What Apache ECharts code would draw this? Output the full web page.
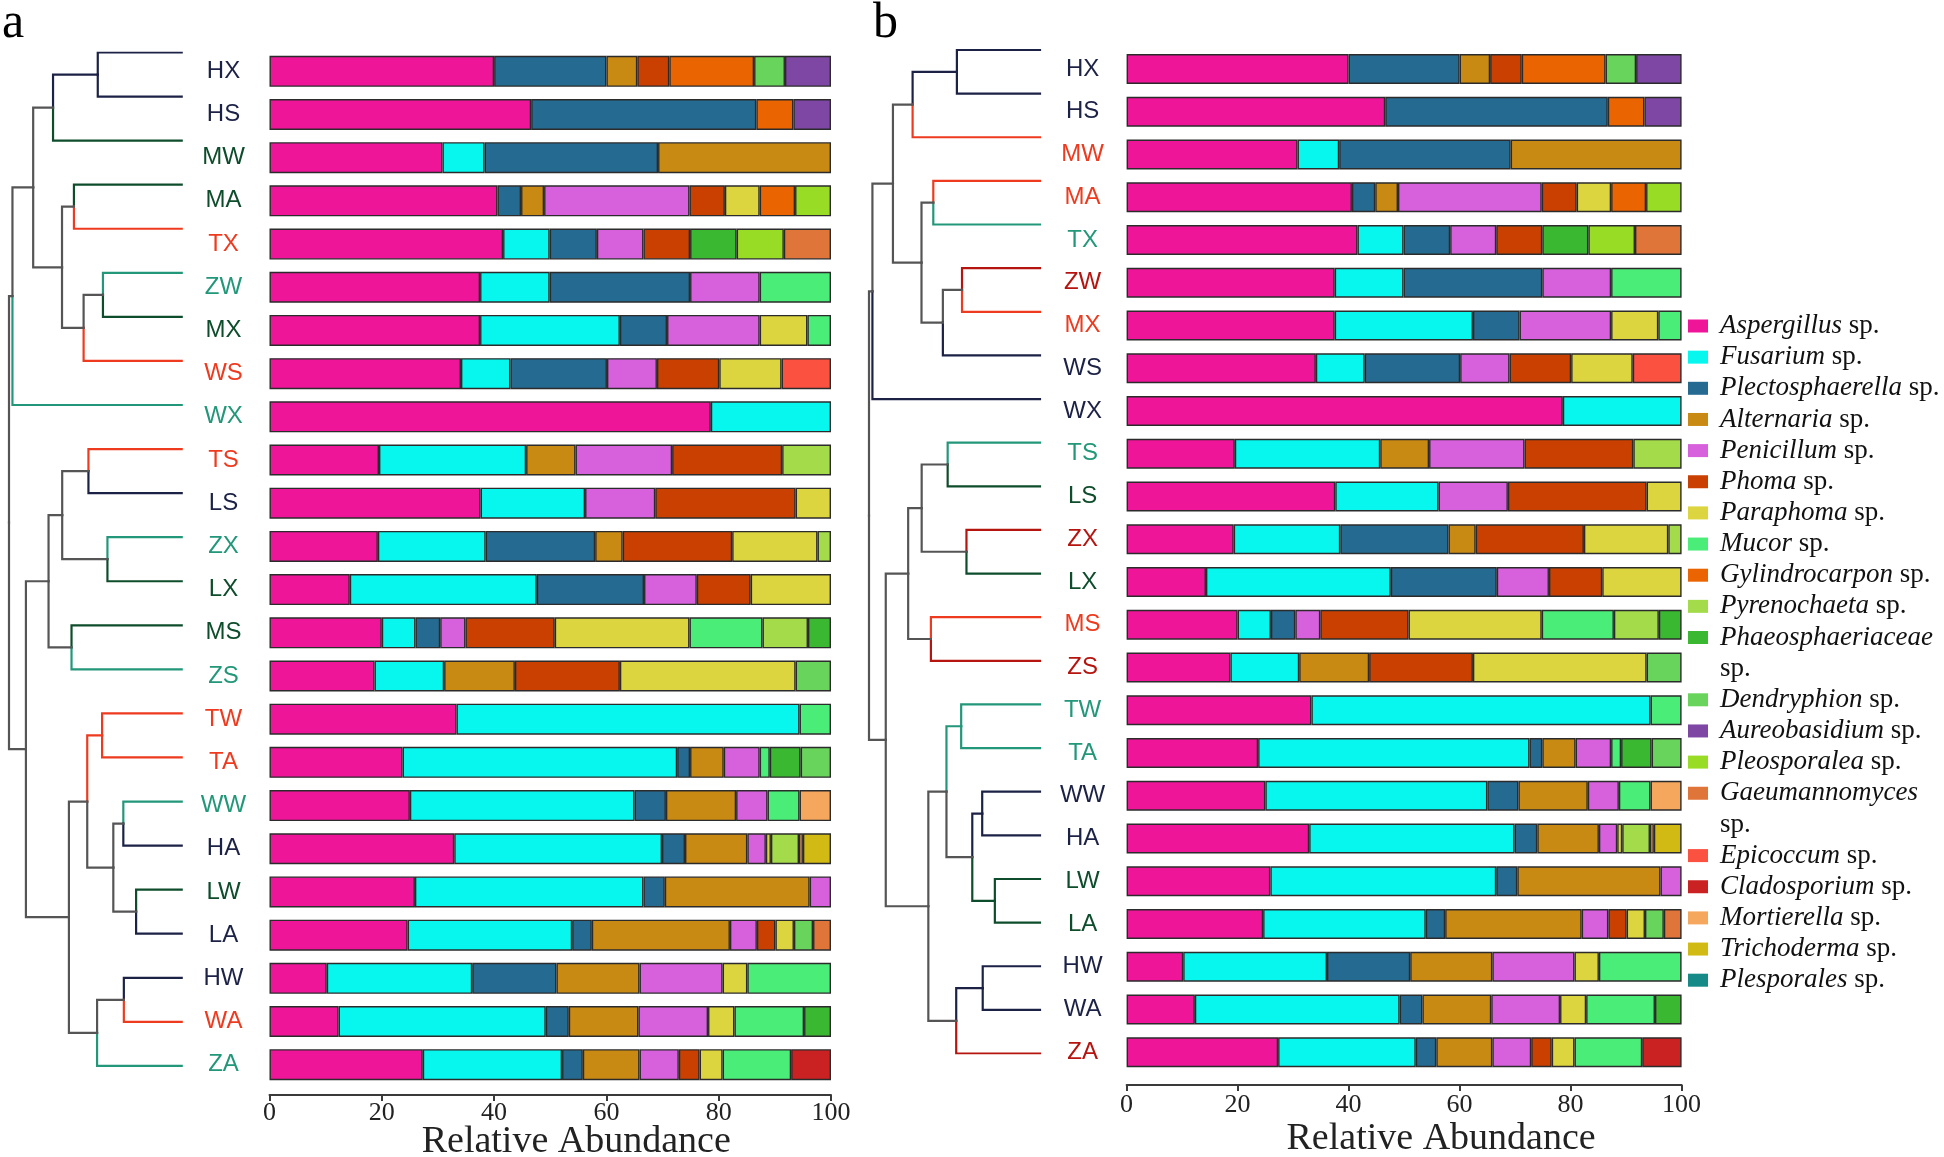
<!DOCTYPE html>
<html><head><meta charset="utf-8">
<script src="https://cdn.jsdelivr.net/npm/echarts@6/dist/echarts.min.js"></script>
<style>html,body{margin:0;padding:0;background:#fff}#c{width:1944px;height:1157px}</style>
</head><body><div id="c"></div><script>
// ---------- data ----------
const samples = ['HX','HS','MW','MA','TX','ZW','MX','WS','WX','TS','LS','ZX','LX','MS','ZS','TW','TA','WW','HA','LW','LA','HW','WA','ZA'];
const species = ['Aspergillus sp.','Fusarium sp.','Plectosphaerella sp.','Alternaria sp.','Penicillum sp.','Phoma sp.','Paraphoma sp.','Mucor sp.','Gylindrocarpon sp.','Pyrenochaeta sp.','Phaeosphaeriaceae sp.','Dendryphion sp.','Aureobasidium sp.','Pleosporalea sp.','Gaeumannomyces sp.','Epicoccum sp.','Cladosporium sp.','Mortierella sp.','Trichoderma sp.','Plesporales sp.'];
const speciesColors = ['#ee1598','#07f7ef','#256a91','#c98a14','#d761dc','#c94000','#ddd540','#4bed79','#ea6502','#a3db4b','#3bb832','#69d45b','#7e47a4','#99dc25','#e07539','#fb5140','#ca2222','#f5a75e','#d2ba15','#168a86'];
//                   HX   HS   MW   MA   TX   ZW   MX   WS   WX   TS   LS   ZX   LX   MS   ZS   TW   TA   WW   HA   LW   LA   HW   WA   ZA
const aspergillus  = [40, 46.6,30.8,40.6,41.6,37.5,37.5,34.1,78.6,19.5,37.6,19.3,14.3,20,  18.7,33.3,23.7,25,  32.9,25.9,24.6,10.2,12.3,27.3];
const fusarium     = [0,  0,   7.5, 0,   8.3, 12.4,24.9,8.8, 21.4,26.2,18.6,19.2,33.3,6,   12.4,61.1,48.9,40,  37,  40.7,29.3,25.9,36.9,24.8];
const plecto       = [20, 40.1,30.9,4.2, 8.4, 25,  8.4, 17.2,0,   0,   0,   19.5,19.1,4.4, 0,   0,   2.3, 5.6, 4.1, 3.8, 3.5, 15,  4.1, 3.7];
const alternaria   = [5.5,0,   30.8,4.1, 0,   0,   0,   0,   0,   8.8, 0,   4.9, 0,   0,   12.6,0,   6,   12.5,11.1,25.8,24.6,14.8,12.4,10.1];
const penicillum   = [0,  0,   0,   25.9,8.3, 12.4,16.5,8.9, 0,   17.2,12.5,0,   9.4, 4.5, 0,   0,   6.4, 5.6, 3.3, 3.8, 4.8, 14.8,12.4,7];
const phoma        = [5.7,0,   0,   6.3, 8.3, 0,   0,   11.1,0,   19.6,25,  19.5,9.6, 15.9,18.7,0,   0,   0,   0,   0,   3.3, 0,   0,   3.7];
const paraphoma    = [0,  0,   0,   6.2, 0,   0,   8.5, 11.1,0,   0,   6.3, 15.2,14.3,24,  31.3,0,   0,   0,   0.9, 0,   3.3, 4.4, 4.7, 4.1];
const mucor        = [0,  0,   0,   0,   0,   12.7,4.2, 0,   0,   0,   0,   0,   0,   13,  0,   5.6, 1.8, 5.7, 0,   0,   0,   14.9,12.4,12.2];
const gylindro     = [15.1,6.6,0,   6.3, 0,   0,   0,   0,   0,   0,   0,   0,   0,   0,   0,   0,   0,   0,   0,   0,   0,   0,   0,   0];
const pyrenochaeta = [0,  0,   0,   0,   0,   0,   0,   0,   0,   8.7, 0,   2.4, 0,   8.1, 0,   0,   0,   0,   5,   0,   0,   0,   0,   0];
const phaeosph     = [0,  0,   0,   0,   8.3, 0,   0,   0,   0,   0,   0,   0,   0,   4.1, 0,   0,   5.5, 0,   0,   0,   0,   0,   4.8, 0];
const dendryphion  = [5.5,0,   0,   0,   0,   0,   0,   0,   0,   0,   0,   0,   0,   0,   6.3, 0,   5.4, 0,   0,   0,   3.4, 0,   0,   0];
const aureobas     = [8.2,6.7, 0,   0,   0,   0,   0,   0,   0,   0,   0,   0,   0,   0,   0,   0,   0,   0,   0,   0,   0,   0,   0,   0];
const pleosporalea = [0,  0,   0,   6.4, 8.4, 0,   0,   0,   0,   0,   0,   0,   0,   0,   0,   0,   0,   0,   0,   0,   0,   0,   0,   0];
const gaeumanno    = [0,  0,   0,   0,   8.4, 0,   0,   0,   0,   0,   0,   0,   0,   0,   0,   0,   0,   0,   0,   0,   3.2, 0,   0,   0];
const epicoccum    = [0,  0,   0,   0,   0,   0,   0,   8.8, 0,   0,   0,   0,   0,   0,   0,   0,   0,   0,   0,   0,   0,   0,   0,   0];
const cladospor    = [0,  0,   0,   0,   0,   0,   0,   0,   0,   0,   0,   0,   0,   0,   0,   0,   0,   0,   0,   0,   0,   0,   0,   7.1];
const mortierella  = [0,  0,   0,   0,   0,   0,   0,   0,   0,   0,   0,   0,   0,   0,   0,   0,   0,   5.6, 0.7, 0,   0,   0,   0,   0];
const trichoderma  = [0,  0,   0,   0,   0,   0,   0,   0,   0,   0,   0,   0,   0,   0,   0,   0,   0,   0,   5,   0,   0,   0,   0,   0];
const plesporales  = [0,  0,   0,   0,   0,   0,   0,   0,   0,   0,   0,   0,   0,   0,   0,   0,   0,   0,   0,   0,   0,   0,   0,   0];
const abundance = [aspergillus,fusarium,plecto,alternaria,penicillum,phoma,paraphoma,mucor,gylindro,pyrenochaeta,phaeosph,dendryphion,aureobas,pleosporalea,gaeumanno,epicoccum,cladospor,mortierella,trichoderma,plesporales];
const xTicks = [0,20,40,60,80,100];

// label / branch colour groups
const NV = '#1c2246', DG = '#0e4d2b', RD = '#ee3b1f', TL = '#23977a', DR = '#b5140f', GREY = '#555555';
const labelColorsA = [NV,NV,DG,DG,RD,TL,DG,RD,TL,RD,NV,TL,DG,DG,TL,RD,RD,TL,NV,DG,NV,NV,RD,TL];
const labelColorsB = [NV,NV,RD,RD,TL,DR,RD,NV,NV,TL,DG,DR,DG,RD,DR,TL,TL,NV,NV,DG,DG,NV,NV,DR];

// hierarchical clustering merges: [childA, childB, height]; leaves 0..23, new nodes 24..
const merges = [
  [0,1,48.6],[24,2,74.5],[3,4,62.4],[5,6,45.6],[27,7,56.8],[26,28,69.3],[25,29,86.0],[30,8,98.0],
  [9,10,54.0],[11,12,43.0],[32,33,69.2],[13,14,63.8],[34,35,77.1],
  [15,16,46.1],[17,18,33.8],[19,20,26.4],[38,39,39.6],[37,40,54.7],[21,22,33.5],[42,23,49.0],[41,43,65.3],
  [36,44,90.2],[31,45,100]
];

// ---------- build ----------
function buildDendro(colors) {
  const n = samples.length, pos = [], h = [], col = [], edges = [];
  for (let i = 0; i < n; i++) { pos[i] = i; h[i] = 0; col[i] = colors[i]; }
  merges.forEach((m, k) => {
    const id = n + k, a = m[0], b = m[1], height = m[2];
    pos[id] = (pos[a] + pos[b]) / 2; h[id] = height;
    col[id] = (col[a] && col[a] === col[b]) ? col[a] : null;
    [a, b].forEach(c => edges.push({
      coords: [[height, pos[id]], [height, pos[c]], [h[c], pos[c]]],
      lineStyle: { color: col[c] || GREY }
    }));
  });
  return edges;
}
const wrapped = ['Phaeosphaeriaceae sp.', 'Gaeumannomyces sp.'];
const serif = 'Liberation Serif', sans = 'Liberation Sans';

function barSeries(idx, bw) {
  return species.map((name, s) => ({
    type: 'bar', name, stack: 'p' + idx, xAxisIndex: idx, yAxisIndex: idx, barWidth: bw,
    data: abundance[s].map(v => v > 0 ? v : '-'),
    itemStyle: { color: speciesColors[s], borderColor: '#2b2b2b', borderWidth: 1.4 },
    emphasis: { disabled: true }, silent: true
  }));
}
function xBar(idx, offset, nameGap, namePad, labMargin) {
  return {
    type: 'value', gridIndex: idx, min: 0, max: 100, interval: 20, offset,
    axisLine: { show: true, lineStyle: { color: '#3a3a3a', width: 2 } },
    axisTick: { show: true, length: 6, lineStyle: { color: '#3a3a3a', width: 2 } },
    axisLabel: { fontFamily: serif, fontSize: 26, color: '#222', margin: labMargin,
      formatter: v => xTicks.indexOf(v) >= 0 ? String(v) : '' },
    splitLine: { show: false },
    name: 'Relative Abundance', nameLocation: 'middle', nameGap, nameMoveOverlap: false,
    nameTextStyle: { fontFamily: serif, fontSize: 38, color: '#222', padding: [0, 0, 0, namePad] }
  };
}
function yBar(idx, margin, colors) {
  return {
    type: 'category', gridIndex: idx, data: samples, inverse: true,
    axisLine: { show: false }, axisTick: { show: false },
    axisLabel: { align: 'center', margin, fontFamily: sans, fontSize: 24,
      color: (v) => colors[samples.indexOf(v)] }
  };
}
const legendCommon = {
  orient: 'vertical', left: 1688, itemWidth: 20, itemHeight: 13, itemGap: 0.15,
  selectedMode: false, padding: 0, icon: 'rect', itemStyle: { borderWidth: 0 },
  formatter: name => {
    const g = name.replace(' sp.', '');
    return wrapped.indexOf(name) >= 0 ? '{i|' + g + '}' : '{i|' + g + '} {n|sp.}';
  },
  textStyle: { fontFamily: serif, fontSize: 27, color: '#111', lineHeight: 31, padding: [0, 0, 0, 7],
    rich: { i: { fontFamily: serif, fontStyle: 'italic', fontSize: 27, color: '#111', lineHeight: 31 },
            n: { fontFamily: serif, fontSize: 27, color: '#111', lineHeight: 31 } } }
};
const gridBase = { outerBoundsMode: 'none', containLabel: false };

const option = {
  animation: false,
  backgroundColor: '#fff',
  title: [
    { text: 'a', left: 2, top: -1, padding: 0, textStyle: { fontFamily: serif, fontSize: 50, fontWeight: 'normal', color: '#000' } },
    { text: 'b', left: 873, top: -1, padding: 0, textStyle: { fontFamily: serif, fontSize: 50, fontWeight: 'normal', color: '#000' } }
  ],
  grid: [
    Object.assign({ left: 269.5, top: 49.7, width: 561.5, height: 1036.6 }, gridBase),
    Object.assign({ left: 1126.6, top: 47.6, width: 555, height: 1026 }, gridBase),
    Object.assign({ left: 9, top: 52.5, width: 172.7, height: 1013.4 }, gridBase),
    Object.assign({ left: 869, top: 50, width: 171, height: 1003.5 }, gridBase)
  ],
  xAxis: [
    xBar(0, 8.7, 28, 52, 5),
    xBar(1, 11.4, 35, 74, 7),
    { type: 'value', gridIndex: 2, min: 0, max: 100, inverse: true, show: false },
    { type: 'value', gridIndex: 3, min: 0, max: 100, inverse: true, show: false }
  ],
  yAxis: [
    yBar(0, 46, labelColorsA),
    yBar(1, 44, labelColorsB),
    { type: 'value', gridIndex: 2, min: 0, max: 23, inverse: true, show: false },
    { type: 'value', gridIndex: 3, min: 0, max: 23, inverse: true, show: false }
  ],
  legend: [
    Object.assign({}, legendCommon, { top: 310.5, data: species.slice(0, 11) }),
    Object.assign({}, legendCommon, { top: 684.3, data: species.slice(11, 15) }),
    Object.assign({}, legendCommon, { top: 840.1, data: species.slice(15) })
  ],
  graphic: [
    { type: 'text', left: 1720, top: 655, silent: true, style: { text: 'sp.', font: '27px "Liberation Serif"', fill: '#111' } },
    { type: 'text', left: 1720, top: 811, silent: true, style: { text: 'sp.', font: '27px "Liberation Serif"', fill: '#111' } }
  ],
  series: [].concat(
    barSeries(0, 31),
    barSeries(1, 30),
    [
      { type: 'lines', coordinateSystem: 'cartesian2d', xAxisIndex: 2, yAxisIndex: 2, polyline: true, silent: true,
        data: buildDendro(labelColorsA), lineStyle: { width: 2.2, opacity: 1, cap: 'square' } },
      { type: 'lines', coordinateSystem: 'cartesian2d', xAxisIndex: 3, yAxisIndex: 3, polyline: true, silent: true,
        data: buildDendro(labelColorsB), lineStyle: { width: 2.2, opacity: 1, cap: 'square' } }
    ]
  )
};
echarts.init(document.getElementById('c'), null, { renderer: 'canvas' }).setOption(option);
</script></body></html>
